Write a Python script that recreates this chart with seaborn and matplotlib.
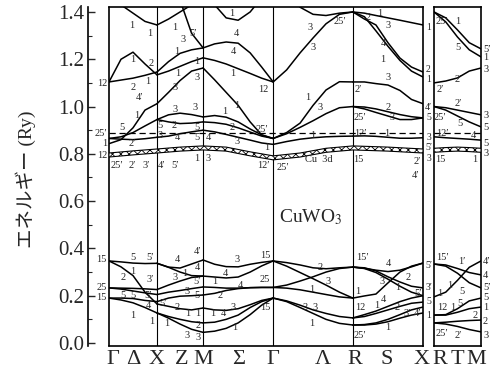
import numpy as np
import pandas as pd
import matplotlib
matplotlib.use('Agg')
import matplotlib.pyplot as plt
import seaborn as sns

sns.set_theme(style='ticks')
plt.rcParams['font.family'] = ['Liberation Serif', 'Noto Sans CJK JP', 'DejaVu Sans']
plt.rcParams['mathtext.fontset'] = 'stix'
plt.rcParams['hatch.linewidth'] = 0.6

# ---- k path (positions along the path) ----
sym_k = [0.0, 0.5, 0.98, 1.71, 2.54, 3.27]
tick_k = [0.04, 0.25, 0.5, 0.76, 0.98, 1.345, 1.71, 2.23, 2.56, 2.89, 3.25]
tick_lab = ['Γ', 'Δ', 'X', 'Z', 'M', 'Σ', 'Γ', 'Λ', 'R', 'S', 'X']
tick_k2 = [0.06, 0.25, 0.45]
tick_lab2 = ['R', 'T', 'M']

k_GX = [0.0, 0.125, 0.25, 0.375, 0.5]
k_XM = [0.5, 0.62, 0.74, 0.86, 0.98]
k_MG = [0.98, 1.10, 1.22, 1.345, 1.47, 1.59, 1.71]
k_GR = [1.71, 1.85, 1.99, 2.125, 2.26, 2.40, 2.54]
k_RX = [2.54, 2.66, 2.78, 2.905, 3.03, 3.15, 3.27]
k_RM = [0.0, 0.125, 0.25, 0.375, 0.5]

# ---- energies (Ry) ----
GX_bands = [
    [1.47, 1.43, 1.395, 1.36, 1.345],
    [1.104, 1.20, 1.23, 1.18, 1.134],
    [1.104, 1.112, 1.12, 1.132, 1.146],
    [0.843, 0.86, 0.91, 0.985, 1.012],
    [0.865, 0.872, 0.89, 0.918, 0.945],
    [0.865, 0.862, 0.860, 0.864, 0.870],
    [0.347, 0.343, 0.338, 0.336, 0.337],
    [0.347, 0.322, 0.285, 0.215, 0.165],
    [0.233, 0.232, 0.231, 0.229, 0.226],
    [0.233, 0.228, 0.22, 0.212, 0.205],
    [0.190, 0.19, 0.188, 0.18, 0.175],
    [0.190, 0.182, 0.17, 0.15, 0.127],
]
XM_bands = [
    [1.345, 1.37, 1.40, 1.43, 1.47],
    [1.60, 1.53, 1.45, 1.31, 1.248],
    [1.146, 1.19, 1.225, 1.24, 1.248],
    [1.134, 1.15, 1.17, 1.19, 1.206],
    [1.012, 1.06, 1.11, 1.15, 1.163],
    [0.945, 0.965, 0.972, 0.966, 0.956],
    [0.945, 0.935, 0.928, 0.93, 0.935],
    [0.870, 0.875, 0.885, 0.893, 0.900],
    [0.337, 0.321, 0.317, 0.334, 0.351],
    [0.337, 0.32, 0.30, 0.285, 0.283],
    [0.226, 0.245, 0.262, 0.277, 0.283],
    [0.205, 0.215, 0.222, 0.23, 0.237],
    [0.175, 0.19, 0.198, 0.20, 0.203],
    [0.165, 0.155, 0.145, 0.14, 0.148],
    [0.127, 0.112, 0.10, 0.09, 0.085],
    [0.127, 0.105, 0.08, 0.058, 0.045],
]
MG_bands = [
    [1.50, 1.43, 1.375, 1.365, 1.40, 1.46, 1.50],
    [1.248, 1.265, 1.273, 1.268, 1.227, 1.167, 1.104],
    [1.206, 1.195, 1.18, 1.16, 1.14, 1.12, 1.104],
    [1.163, 1.113, 1.06, 1.005, 0.935, 0.88, 0.865],
    [0.956, 0.962, 0.955, 0.935, 0.905, 0.88, 0.865],
    [0.935, 0.932, 0.925, 0.91, 0.892, 0.875, 0.865],
    [0.900, 0.893, 0.882, 0.87, 0.858, 0.846, 0.840],
    [0.351, 0.333, 0.323, 0.322, 0.333, 0.341, 0.347],
    [0.283, 0.279, 0.275, 0.279, 0.30, 0.326, 0.347],
    [0.237, 0.235, 0.232, 0.232, 0.234, 0.235, 0.235],
    [0.203, 0.21, 0.222, 0.23, 0.234, 0.235, 0.235],
    [0.148, 0.14, 0.138, 0.145, 0.162, 0.18, 0.19],
    [0.085, 0.088, 0.10, 0.118, 0.15, 0.175, 0.19],
    [0.045, 0.05, 0.062, 0.085, 0.12, 0.16, 0.19],
]
GR_bands = [
    [1.55, 1.48, 1.42, 1.39, 1.385, 1.395, 1.40],
    [1.104, 1.155, 1.227, 1.29, 1.35, 1.39, 1.40],
    [0.865, 0.89, 0.93, 1.005, 1.07, 1.105, 1.104],
    [0.865, 0.885, 0.912, 0.94, 0.97, 0.995, 1.0],
    [0.840, 0.852, 0.862, 0.868, 0.872, 0.874, 0.875],
    [0.347, 0.325, 0.298, 0.272, 0.245, 0.215, 0.19],
    [0.347, 0.34, 0.33, 0.318, 0.314, 0.318, 0.321],
    [0.235, 0.245, 0.262, 0.28, 0.30, 0.315, 0.321],
    [0.235, 0.232, 0.225, 0.215, 0.205, 0.195, 0.19],
    [0.19, 0.178, 0.16, 0.14, 0.125, 0.112, 0.106],
    [0.19, 0.175, 0.15, 0.125, 0.10, 0.083, 0.076],
]
RX_bands = [
    [1.40, 1.395, 1.385, 1.375, 1.365, 1.355, 1.345],
    [1.40, 1.37, 1.345, 1.27, 1.205, 1.167, 1.146],
    [1.40, 1.38, 1.32, 1.255, 1.195, 1.15, 1.125],
    [1.104, 1.104, 1.097, 1.091, 1.068, 1.03, 1.012],
    [1.0, 0.998, 0.99, 0.978, 0.966, 0.957, 0.952],
    [1.0, 0.99, 0.975, 0.96, 0.945, 0.945, 0.952],
    [0.875, 0.876, 0.874, 0.87, 0.866, 0.866, 0.868],
    [0.321, 0.316, 0.308, 0.302, 0.308, 0.322, 0.338],
    [0.19, 0.199, 0.207, 0.254, 0.30, 0.325, 0.338],
    [0.321, 0.318, 0.305, 0.28, 0.258, 0.24, 0.233],
    [0.321, 0.315, 0.298, 0.27, 0.24, 0.215, 0.20],
    [0.106, 0.12, 0.135, 0.155, 0.175, 0.19, 0.20],
    [0.106, 0.112, 0.125, 0.14, 0.155, 0.168, 0.173],
    [0.076, 0.078, 0.085, 0.10, 0.12, 0.14, 0.152],
    [0.076, 0.076, 0.08, 0.09, 0.105, 0.118, 0.127],
]
RM_bands = [
    [1.40, 1.375, 1.324, 1.27, 1.244],
    [1.40, 1.358, 1.294, 1.24, 1.21],
    [1.10, 1.108, 1.121, 1.15, 1.163],
    [1.0, 0.995, 0.985, 0.975, 0.965],
    [1.0, 0.985, 0.96, 0.935, 0.914],
    [0.872, 0.868, 0.865, 0.862, 0.858],
    [0.334, 0.33, 0.315, 0.298, 0.288],
    [0.334, 0.325, 0.295, 0.255, 0.233],
    [0.195, 0.215, 0.265, 0.32, 0.347],
    [0.118, 0.12, 0.145, 0.178, 0.19],
    [0.118, 0.118, 0.13, 0.145, 0.152],
    [0.085, 0.088, 0.092, 0.095, 0.097],
    [0.085, 0.08, 0.07, 0.057, 0.047],
]

# Cu 3d narrow band
cu_k = [0.0, 0.25, 0.5, 0.74, 0.98, 1.22, 1.47, 1.71, 1.99, 2.26, 2.54, 2.905, 3.27]
cu_E = [0.795, 0.804, 0.812, 0.82, 0.825, 0.82, 0.80, 0.783, 0.795, 0.815, 0.825, 0.82, 0.812]
cu_k2 = [0.0, 0.125, 0.25, 0.375, 0.5]
cu_E2 = [0.815, 0.818, 0.82, 0.818, 0.815]
fermi = 0.888

# ---- band labels (figure pixel positions) ----
W, H = 504, 374
edge_left = [(83, '12'), (133, '25′'), (143, '1'), (156, '12'),
             (260, '15'), (288, '25'), (298, '15')]
edge_X = [(27, '1'), (70, '2'), (80, '1'), (107, '4′'), (118, '5'), (138, '3'),
          (148, '5′'), (159, '3'), (265, '5′'), (288, '3′'), (302, '5'), (315, '1')]
edge_M = [(49, '5′'), (57, '1'), (69, '3'), (115, '3'), (127, '5'), (143, '5'),
          (154, '3'), (262, '4′'), (276, '4'), (288, '5′'), (298, '5'), (308, '1'),
          (322, '2'), (335, '3')]
inner = [
    (132, 25, '1'), (150, 33, '1'), (133, 60, '1'), (151, 63, '2'), (133, 88, '2'),
    (148, 82, '1'), (140, 98, '4′'), (137, 115, '1'), (122, 127, '5'), (160, 125, '5'),
    (160, 135, '3'), (132, 143, '2′'),
    (117, 165, '25′'), (132, 165, '2′'), (146, 165, '3′'), (162, 165, '4′'), (175, 165, '5′'),
    (175, 28, '1'), (183, 40, '3'), (193, 33, '5′'), (232, 13, '1'), (236, 33, '4'),
    (177, 52, '1'), (197, 62, '1'), (233, 51, '4'), (178, 73, '1'), (233, 73, '1'),
    (175, 87, '3'), (197, 78, '3'), (263, 90, '12'), (237, 106, '1'), (175, 110, '3'),
    (195, 108, '3'), (225, 112, '1'), (174, 126, '2'), (197, 127, '5'), (232, 127, '2'),
    (262, 129, '25′'), (177, 138, '4'), (197, 137, '5'), (208, 138, '4'), (237, 142, '3'),
    (267, 147, '1'), (197, 159, '1'), (208, 159, '3'), (263, 166, '12′'), (283, 168, '25′'),
    (310, 27, '3'), (313, 48, '3'), (308, 97, '1'), (320, 108, '3'), (313, 136, '1'),
    (340, 22, '25′'), (368, 17, '2'), (380, 13, '1'), (388, 25, '3'), (383, 43, '4'),
    (383, 60, '1'), (388, 77, '3'), (358, 90, '2′'), (388, 107, '2'), (360, 118, '25′'),
    (392, 118, '3'), (360, 133, '12′'), (387, 133, '1'), (358, 160, '15'), (417, 162, '2′'),
    (415, 175, '4′'),
    (442, 22, '25′'), (458, 22, '1'), (458, 47, '5'), (440, 90, '2′'), (458, 80, '2′'),
    (458, 103, '2′'), (440, 118, '25′'), (460, 123, '5'), (442, 133, '12′'), (473, 135, '4'),
    (440, 160, '15'), (475, 160, '1'),
    (133, 257, '5'), (150, 257, '5′'), (133, 272, '1'), (123, 278, '2'), (150, 280, '3′'),
    (123, 295, '5'), (133, 295, '5'), (148, 295, '5′'), (148, 305, '4'), (163, 303, '5′'),
    (133, 315, '1'), (152, 322, '1'), (167, 323, '1'), (177, 259, '4'), (197, 252, '4′'),
    (185, 273, '1'), (197, 268, '4'), (175, 278, '3'), (197, 282, '5′'), (215, 282, '1'),
    (187, 292, '3'), (197, 295, '5'), (177, 307, '2'), (188, 313, '1'), (198, 313, '1'),
    (213, 313, '1'), (198, 325, '2'), (187, 335, '3'), (198, 338, '3'),
    (237, 260, '3'), (265, 255, '15'), (225, 273, '4'), (240, 285, '4'), (265, 280, '25'),
    (220, 295, '2'), (223, 313, '4'), (233, 307, '3'), (265, 308, '15'), (235, 327, '1'),
    (320, 267, '2'), (328, 282, '3'), (312, 290, '1'), (305, 307, '3'), (315, 307, '3'),
    (312, 323, '1'),
    (362, 258, '15′'), (388, 263, '4'), (382, 282, '3'), (408, 277, '2'), (358, 292, '1'),
    (398, 288, '1'), (418, 293, '5′'), (360, 308, '12'), (377, 305, '1'), (383, 300, '4'),
    (397, 307, '2'), (407, 313, '3′'), (417, 313, '4′'), (360, 335, '25′'), (388, 328, '1'),
    (442, 257, '15′'), (462, 262, '1′'), (440, 293, '1'), (450, 285, '1'), (462, 292, '5'),
    (442, 308, '12'), (453, 307, '1'), (460, 303, '5'), (475, 315, '2'), (442, 333, '25′'),
    (458, 335, '2′'),
]


def to_frame(segs):
    recs = []
    for si, (ks, bands) in enumerate(segs):
        for bi, es in enumerate(bands):
            for kk, ee in zip(ks, es):
                recs.append({'k': kk, 'E': ee, 'band': f'{si}-{bi}'})
    return pd.DataFrame(recs)


df_left = to_frame([(k_GX, GX_bands), (k_XM, XM_bands), (k_MG, MG_bands),
                    (k_GR, GR_bands), (k_RX, RX_bands)])
df_right = to_frame([(k_RM, RM_bands)])

fig = plt.figure(figsize=(W / 100, H / 100), dpi=100)
ax = fig.add_axes([109 / W, 28 / H, 314 / W, 339 / H])
ax2 = fig.add_axes([434 / W, 28 / H, 47 / W, 339 / H])

ylo, yhi = -0.0127, 1.421
for a, df, ck, ce, xr in [(ax, df_left, cu_k, cu_E, (0, 3.27)),
                          (ax2, df_right, cu_k2, cu_E2, (0, 0.5))]:
    sns.lineplot(data=df, x='k', y='E', units='band', estimator=None, sort=False,
                 color='black', lw=1.1, ax=a, legend=False)
    ce = np.array(ce)
    a.fill_between(ck, ce - 0.0085, ce + 0.0085, facecolor='white',
                   edgecolor='black', hatch='xxxx', lw=0.8, zorder=3)
    a.axhline(fermi, color='black', lw=0.9, ls=(0, (5, 3)))
    a.set_xlim(*xr)
    a.set_ylim(ylo, yhi)
    a.set_xlabel('')
    a.set_ylabel('')
    for s in a.spines.values():
        s.set_linewidth(1.2)
        s.set_color('black')
    a.set_facecolor('white')

for kk in sym_k[1:-1]:
    ax.axvline(kk, color='black', lw=0.8)
ax.axvline(0, color='black', lw=1.2, clip_on=False)

# separated energy axis
ax.spines['left'].set_position(('outward', 15))
ax.set_yticks([0.0, 0.2, 0.4, 0.6, 0.8, 1.0, 1.2, 1.4])
ax.set_yticklabels(['0.0', '0.2', '0.4', '0.6', '0.8', '1.0', '1.2', '1.4'])
ax.set_yticks([0.1, 0.3, 0.5, 0.7, 0.9, 1.1, 1.3], minor=True)
ax.tick_params(axis='y', which='major', direction='in', length=5, width=1.0,
               labelsize=15, pad=3)
ax.tick_params(axis='y', which='minor', direction='in', length=3, width=0.8)

ax.set_xticks(tick_k)
ax.set_xticklabels(tick_lab)
ax2.set_xticks(tick_k2)
ax2.set_xticklabels(tick_lab2)
for a in (ax, ax2):
    a.tick_params(axis='x', length=0, labelsize=16, pad=3)
ax2.set_yticks([])

ax.text(2.10, 0.533, 'CuWO$_3$', fontsize=14, ha='center', va='center')
ax.text(2.19, 0.774, 'Cu  3d', fontsize=7.5, ha='center', va='center')

fig.text(0.05, 0.52, 'エネルギー (Ry)', rotation=90, fontsize=14,
         ha='center', va='center')

lab_kw = dict(fontsize=7.5, va='center')
for y, s in edge_left:
    fig.text(107 / W, 1 - y / H, s, ha='right', **lab_kw)
for y, s in edge_X:
    fig.text(428.5 / W, 1 - y / H, s, ha='center', fontsize=7, va='center')
for y, s in edge_M:
    fig.text(483 / W, 1 - y / H, s, ha='left', **lab_kw)
for x, y, s in inner:
    fig.text(x / W, 1 - y / H, s, ha='center', **lab_kw)

fig.savefig('out.png', dpi=100)
